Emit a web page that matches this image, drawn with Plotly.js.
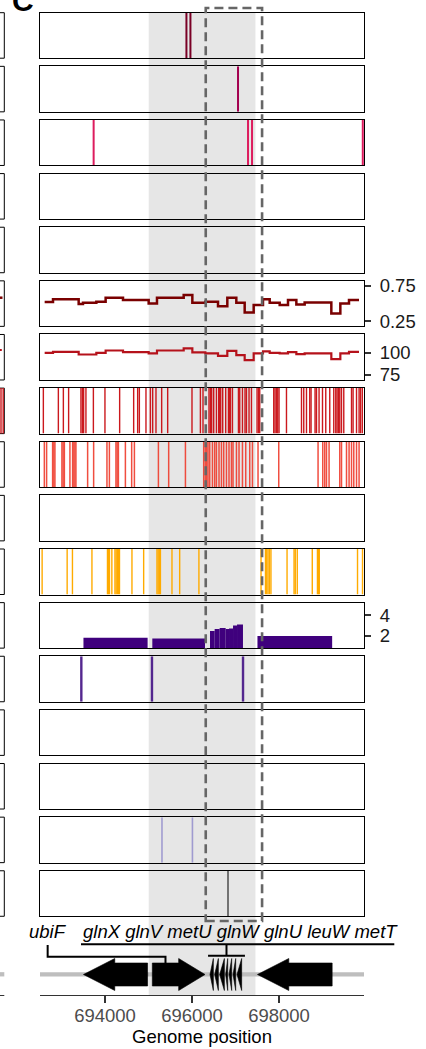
<!DOCTYPE html>
<html><head><meta charset="utf-8">
<script src="https://cdn.plot.ly/plotly-3.0.1.min.js"></script>
<style>html,body{margin:0;padding:0;background:#fff}#chart{width:426px;height:1049px}</style>
</head><body><div id="chart"></div>
<script>
// ================= DATA (genome positions in bp) =================
const xRange = [692506, 699954];
const xTickVals = [694000, 696000, 698000];
const xTickText = ['694000', '696000', '698000'];
const shadedRegion = [695005, 697459];
const focusWindow = [696316, 697611];

const track1Pos = [695872, 695964];
const track2Pos = [697058];
const track3Pos = [693739, 697288, 697380, 699926];

const gcBinEdges = [692613, 692805, 693395, 693494, 693801, 694015, 694414, 695004, 695195, 695809,
  696008, 696307, 696598, 696812, 697019, 697211, 697418, 697632, 697786, 698016,
  698207, 698399, 698590, 699203, 699410, 699609, 699839];
const gcValues = [0.521, 0.560, 0.493, 0.511, 0.526, 0.583, 0.550, 0.503, 0.583, 0.621,
  0.511, 0.526, 0.464, 0.583, 0.511, 0.374, 0.479, 0.560, 0.511, 0.479,
  0.550, 0.489, 0.517, 0.360, 0.503, 0.550];
const track7Values = [100.0, 101.1, 98.1, 98.1, 100.0, 102.6, 100.7, 99.3, 102.6, 104.9,
  100.4, 99.3, 96.6, 102.2, 97.4, 91.8, 99.3, 101.5, 100.0, 99.3,
  100.7, 98.5, 99.3, 92.9, 99.3, 101.1];

const track8Pos = [692583, 692928, 693043, 693164, 693447, 693480, 693509, 693562, 693733, 693999,
  694337, 694659, 694751, 694790, 694942, 695043, 695096, 695172, 695303, 695441, 696000, 696193,
  696253, 696391, 696424, 696453, 696499, 696562, 696614, 696637, 696660, 696706, 696775, 696838,
  696861, 696884, 696930, 697068, 697097, 697160, 697219, 697252, 697311, 697367, 697495, 697528,
  697557, 697879, 697909, 697942, 697971, 698001, 698172, 698517, 698569, 698632, 698707, 698737,
  698829, 698862, 698921, 699000, 699075, 699167, 699259, 699305, 699335, 699368, 699397, 699437,
  699489, 699667, 699703, 699782, 699841, 699874, 699915];
const track9Pos = [692606, 692658, 692796, 692824, 692849, 693010, 693038, 693066, 693194, 693256,
  693284, 693309, 693332, 693601, 693739, 694045, 694101, 694252, 694280, 694308, 694469, 694613,
  694676, 695228, 695464, 695849, 696269, 696304, 696338, 696368, 696407, 696470, 696522, 696562,
  696621, 696677, 696729, 696792, 696851, 696907, 696943, 697022, 697081, 697160, 697235, 697327,
  697390, 697518, 697994, 698898, 699006, 699052, 699092, 699151, 699397, 699437, 699552, 699611,
  699667, 699719, 699782, 699841];
const track11Pos = [692555, 693130, 693252, 693700, 694057, 694080, 694103, 694158, 694229, 694257,
  694285, 694312, 694333, 694620, 694889, 695195, 695223, 695251, 695274, 695540, 695717, 696159,
  697587, 697689, 697718, 697748, 697781, 697815, 698185, 698346, 698374, 698420, 698765, 698884,
  698908, 698926, 699805, 699920];

const geneNames  = ['', 'ubiF', 'glnX', 'glnV', 'metU', 'glnW', 'glnU', 'leuW', 'metT', ''];
const geneStart  = [693505, 695088, 696414, 696521, 696636, 696774, 696851, 696943, 697035, 697505];
const geneEnd    = [694980, 696299, 696521, 696636, 696774, 696851, 696943, 697035, 697172, 699222];
const geneStrand = [-1, 1, -1, -1, -1, -1, -1, -1, -1, -1];
const track12Values = [1.84, 1.75, 2.48, 2.67, 2.76, 2.67, 2.73, 3.02, 3.11, 2.00];

const track13Pos = [693456, 695080, 697173];
const track16Pos = [695310, 696010];
const track17Pos = [696828];

// ================= LAYOUT HELPERS =================
const W = 426, H = 1049, ML = 40, MR = 62, MT = 12, MB = 54;
const PW = W - ML - MR, PH = H - MT - MB;
const pyF = px => (H - MB - px) / PH;      // pixel row -> paper y
const pxF = px => (px - ML) / PW;          // pixel col -> paper x
const NP = 17, P0 = 12.7, PITCH = 53.63, PHGT = 45.5;
const FONT = 'Liberation Sans, Arial, sans-serif';
const FS = 18.5;

const traces = [];
const layout = {
  width: W, height: H,
  margin: {l: ML, r: MR, t: MT, b: MB},
  paper_bgcolor: '#ffffff', plot_bgcolor: 'rgba(0,0,0,0)',
  showlegend: false, font: {family: FONT, size: FS, color: '#1a1a1a'},
  shapes: [], annotations: []
};
const ax = k => (k === 1 ? '' : String(k));

// panel axes
const special = {
  6: {range: [0.179, 0.821], tickvals: [0.25, 0.75], ticktext: ['0.25', '0.75']},
  7: {range: [69.4, 120.6], tickvals: [75, 100], ticktext: ['75', '100']},
  12: {range: [0.83, 5.21], tickvals: [2, 4], ticktext: ['2', '4']}
};
for (let k = 1; k <= NP; k++) {
  const top = P0 + (k - 1) * PITCH, bot = top + PHGT;
  layout['xaxis' + ax(k)] = {
    domain: [0, 1], anchor: 'y' + ax(k), range: xRange, showticklabels: false, ticks: '',
    showline: true, mirror: true, linecolor: '#000', linewidth: 1, showgrid: false, zeroline: false, fixedrange: true
  };
  const ya = {
    domain: [pyF(bot), pyF(top)], anchor: 'x' + ax(k), range: [0, 1], showticklabels: false, ticks: '',
    showline: true, mirror: true, linecolor: '#000', linewidth: 1, showgrid: false, zeroline: false, fixedrange: true
  };
  if (special[k]) {
    Object.assign(ya, special[k], {
      side: 'right', ticks: 'outside', ticklen: 6, tickwidth: 2, tickcolor: '#333',
      showticklabels: true, tickfont: {size: FS, color: '#1a1a1a', family: FONT}, ticklabelstandoff: 5
    });
  }
  layout['yaxis' + ax(k)] = ya;
  // an empty trace so that every panel (even empty ones) gets its frame
  traces.push({type: 'scatter', mode: 'lines', x: [null], y: [null], xaxis: 'x' + ax(k), yaxis: 'y' + ax(k), hoverinfo: 'skip'});
}
// gene track axes
const G = 18;
layout['xaxis' + G] = {
  domain: [0, 1], anchor: 'y' + G, range: xRange, showline: true, linecolor: '#333', linewidth: 1,
  ticks: 'outside', ticklen: 7, tickwidth: 2, tickcolor: '#333', tickvals: xTickVals, ticktext: xTickText,
  tickfont: {size: FS, color: '#4d4d4d', family: FONT}, showgrid: false, zeroline: false, fixedrange: true,
  ticklabelstandoff: -3,
  title: {text: 'Genome position', font: {size: FS, color: '#000', family: FONT}, standoff: 0}
};
layout['yaxis' + G] = {domain: [0, pyF(920)], anchor: 'x' + G, range: [0, 75], visible: false, fixedrange: true};
traces.push({type: 'scatter', mode: 'lines', x: [null], y: [null], xaxis: 'x' + G, yaxis: 'y' + G, hoverinfo: 'skip'});

// ================= TRACES =================
function vlines(pos, k, color, width, opacity) {
  const x = [], y = [];
  pos.forEach(p => { x.push(p, p, null); y.push(0, 1, null); });
  traces.push({type: 'scatter', mode: 'lines', x, y, xaxis: 'x' + ax(k), yaxis: 'y' + ax(k),
    line: {color, width}, opacity: opacity || 1, hoverinfo: 'skip'});
}
vlines(track1Pos, 1, '#7a0026', 2);
vlines(track2Pos, 2, '#a3004f', 2);
vlines(track3Pos, 3, '#dd1c5e', 2);

function steps(vals, k, color, width) {
  const x = gcBinEdges.slice();
  const y = vals.concat([vals[vals.length - 1]]);
  traces.push({type: 'scatter', mode: 'lines', x, y, xaxis: 'x' + ax(k), yaxis: 'y' + ax(k),
    line: {color, width, shape: 'hv'}, hoverinfo: 'skip'});
}
steps(gcValues, 6, '#7a0000', 2.5);
steps(track7Values, 7, '#b5121b', 2.2);

vlines(track8Pos, 8, '#cb181d', 1.4);
vlines(track9Pos, 9, '#ef3b2c', 1.5, 0.9);
vlines(track11Pos, 11, '#ffab00', 1.4);

// panel 12 bars per gene
traces.push({type: 'bar', x: geneStart.map((s, i) => (s + geneEnd[i]) / 2), y: track12Values,
  width: geneStart.map((s, i) => geneEnd[i] - s), base: 0, xaxis: 'x12', yaxis: 'y12',
  marker: {color: '#3f007d', line: {width: 0}}, hoverinfo: 'skip'});

vlines(track13Pos, 13, '#54278f', 2.4);
vlines(track16Pos, 16, '#a09bd0', 1.6);
vlines(track17Pos, 17, '#000000', 1);

// ================= SHAPES =================
const S = layout.shapes;
// shaded region (behind everything)
S.push({type: 'rect', xref: 'x' + G, yref: 'paper', x0: shadedRegion[0], x1: shadedRegion[1],
  y0: pyF(995), y1: pyF(P0), fillcolor: '#e6e6e6', line: {width: 0}, layer: 'below'});
// chromosome backbone
S.push({type: 'line', xref: 'x' + G + ' domain', yref: 'y' + G, x0: 0, x1: 1, y0: 20.7, y1: 20.7,
  line: {color: '#bebebe', width: 4.3}, layer: 'below'});
// gene arrows
const C = 20.5, HH = 16, BH = 11.5;
geneStart.forEach((s, i) => {
  const e = geneEnd[i];
  const isT = (e - s) < 300;
  const e2 = isT ? e - 30 : e;
  const len = e2 - s;
  const head = isT ? len : Math.min(720, len / 2);
  let p;
  if (geneStrand[i] < 0) {
    const hb = s + head;
    p = `M${s},${C} L${hb},${C + HH} L${hb},${C + BH} L${e2},${C + BH} L${e2},${C - BH} L${hb},${C - BH} L${hb},${C - HH} Z`;
  } else {
    const hb = e2 - head;
    p = `M${e2},${C} L${hb},${C + HH} L${hb},${C + BH} L${s},${C + BH} L${s},${C - BH} L${hb},${C - BH} L${hb},${C - HH} Z`;
  }
  S.push({type: 'path', xref: 'x' + G, yref: 'y' + G, path: p, fillcolor: '#000',
    line: {color: '#000', width: 0.6}, layer: 'above'});
});
// gene labels
const LBL_Y = 63.5;
const ubi = geneNames.indexOf('ubiF');
const ubiLabelX = 692682;
layout.annotations.push({xref: 'x' + G, yref: 'y' + G, x: ubiLabelX, y: LBL_Y, text: '<i>ubiF</i>',
  showarrow: false, xanchor: 'center', yanchor: 'middle', font: {size: FS, color: '#000', family: FONT}});
const ubiHook = geneStart[ubi] + 0.25 * (geneEnd[ubi] - geneStart[ubi]);
S.push({type: 'path', xref: 'x' + G, yref: 'y' + G,
  path: `M${ubiLabelX},50 L${ubiLabelX},38.3 L${ubiHook},38.3 L${ubiHook},${C + BH}`,
  line: {color: '#000', width: 2}, layer: 'above'});
const tIdx = geneNames.map((n, i) => i).filter(i => geneEnd[i] - geneStart[i] < 300);
const tNames = tIdx.map(i => geneNames[i]).join(' ');
const tS = Math.min(...tIdx.map(i => geneStart[i])) - 45, tE = Math.max(...tIdx.map(i => geneEnd[i])) + 45;
const tLabelX = 693441;
layout.annotations.push({xref: 'x' + G, yref: 'y' + G, x: tLabelX, y: LBL_Y, text: '<i>' + tNames + '</i>',
  showarrow: false, xanchor: 'left', yanchor: 'middle', font: {size: FS, color: '#000', family: FONT}});
S.push({type: 'line', xref: 'paper', yref: 'y' + G, x0: pxF(81), x1: pxF(394.3), y0: 50.7, y1: 50.7,
  line: {color: '#000', width: 2}, layer: 'above'});
S.push({type: 'line', xref: 'x' + G, yref: 'y' + G, x0: (tS + tE) / 2, x1: (tS + tE) / 2, y0: 50.7, y1: 39.3,
  line: {color: '#000', width: 2}, layer: 'above'});
S.push({type: 'line', xref: 'x' + G, yref: 'y' + G, x0: tS, x1: tE, y0: 39.3, y1: 39.3,
  line: {color: '#000', width: 2}, layer: 'above'});
// focus window (dashed)
S.push({type: 'rect', xref: 'x' + G, yref: 'paper', x0: focusWindow[0], x1: focusWindow[1],
  y0: pyF(921), y1: pyF(8), line: {color: '#666666', width: 2.6, dash: '9px,5px'}, fillcolor: 'rgba(0,0,0,0)', layer: 'above'});

// neighbouring (cropped) column on the far left
for (let k = 1; k <= NP; k++) {
  const top = P0 + (k - 1) * PITCH, bot = top + PHGT;
  S.push({type: 'rect', xref: 'paper', yref: 'paper', x0: pxF(-20), x1: pxF(4.3), y0: pyF(bot), y1: pyF(top),
    line: {color: '#000', width: 1}, fillcolor: 'rgba(0,0,0,0)'});
}
S.push({type: 'line', xref: 'paper', yref: 'paper', x0: pxF(-5), x1: pxF(2.5), y0: pyF(297.7), y1: pyF(297.7), line: {color: '#7a0000', width: 2.5}});
S.push({type: 'line', xref: 'paper', yref: 'paper', x0: pxF(-5), x1: pxF(1.8), y0: pyF(350), y1: pyF(350), line: {color: '#b5121b', width: 2.2}});
[1, 3.2].forEach(px => S.push({type: 'line', xref: 'paper', yref: 'paper', x0: pxF(px), x1: pxF(px),
  y0: pyF(P0 + 7 * PITCH + PHGT), y1: pyF(P0 + 7 * PITCH), line: {color: '#cb181d', width: 1.4}}));
S.push({type: 'line', xref: 'paper', yref: 'paper', x0: pxF(-5), x1: pxF(4.3), y0: pyF(974.3), y1: pyF(974.3), line: {color: '#bebebe', width: 4.3}});
S.push({type: 'line', xref: 'paper', yref: 'paper', x0: pxF(-5), x1: pxF(4.3), y0: pyF(995.5), y1: pyF(995.5), line: {color: '#333', width: 1}});

// panel tag
layout.annotations.push({xref: 'paper', yref: 'paper', x: pxF(22.5), y: pyF(0.2), text: '<b>C</b>', showarrow: false,
  xanchor: 'center', yanchor: 'middle', font: {size: 30, color: '#000', family: FONT}});

Plotly.newPlot('chart', traces, layout, {displayModeBar: false, staticPlot: true});
</script></body></html>
